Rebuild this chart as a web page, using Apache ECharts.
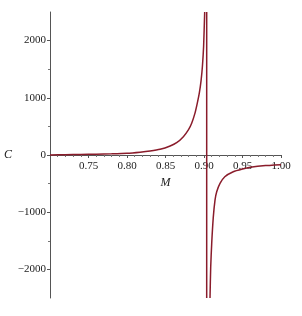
<!DOCTYPE html>
<html>
<head>
<meta charset="utf-8">
<script src="https://cdn.jsdelivr.net/npm/echarts@6/dist/echarts.min.js"></script>
<style>
html,body{margin:0;padding:0;background:#fff;}
#chart{width:302px;height:316px;}
</style>
</head>
<body>
<div id="chart"></div>
<script>
// Left branch (M < pole)
const leftM = [0.700, 0.720, 0.740, 0.760, 0.780, 0.800, 0.817, 0.830, 0.843, 0.856, 0.8645, 0.8732, 0.8797, 0.884, 0.8883, 0.8913, 0.8940, 0.8962, 0.8980, 0.8995, 0.9009];
const leftC = [2, 5, 9, 14, 21, 31, 50, 70, 100, 158, 216, 321, 439, 556, 732, 907, 1090, 1300, 1560, 1900, 2500];
// Right branch (M > pole)
const rightM = [0.9078, 0.9087, 0.9100, 0.9120, 0.9143, 0.9165, 0.9208, 0.927, 0.938, 0.950, 0.960, 0.980, 1.000];
const rightC = [-2500, -1960, -1550, -1100, -790, -643, -497, -380, -292, -245, -216, -185, -170];
// Connecting vertical segment at the pole
const poleM = [0.9035, 0.9035];
const poleC = [-2500, 2500];
const xTicks = [0.75, 0.80, 0.85, 0.90, 0.95, 1.00];
const yTicks = [-2000, -1000, 0, 1000, 2000];
const yMinorTicks = [-1500, -500, 500, 1500];

const zip = (a, b) => a.map((v, i) => [v, b[i]]);
const color = '#8a1c2b';
const axisColor = '#555';
const labelFont = { fontFamily: 'Liberation Serif', fontSize: 11, color: '#222' };
const nameFont = { fontFamily: 'Liberation Serif', fontStyle: 'italic', fontSize: 12, color: '#222' };

const chart = echarts.init(document.getElementById('chart'), null, { renderer: 'canvas' });
chart.setOption({
  animation: false,
  grid: { left: 50, right: 21, top: 12, bottom: 18, containLabel: false, outerBoundsMode: 'none' },
  xAxis: {
    type: 'value', min: 0.70, max: 1.00, interval: 0.05,
    position: 'bottom', offset: -143,
    name: 'M', nameLocation: 'middle', nameGap: 17, nameTextStyle: nameFont,
    axisLine: { onZero: false, lineStyle: { color: axisColor, width: 1 } },
    axisTick: { show: true, length: 3, lineStyle: { color: axisColor } },
    minorTick: { show: true, splitNumber: 5, length: 2, lineStyle: { color: '#777' } },
    splitLine: { show: false },
    axisLabel: Object.assign({ margin: 6, formatter: v => xTicks.some(t => Math.abs(t - v) < 1e-9) ? v.toFixed(2) : '' }, labelFont)
  },
  yAxis: [{
    type: 'value', min: -2500, max: 2500, interval: 500,
    name: 'C', nameLocation: 'middle', nameRotate: 0, nameGap: 38, nameTextStyle: nameFont,
    axisLine: { show: true, onZero: false, lineStyle: { color: axisColor, width: 1 } },
    axisTick: { show: true, length: 3, customValues: yTicks, lineStyle: { color: axisColor } },
    splitLine: { show: false },
    axisLabel: Object.assign({ margin: 4, customValues: yTicks, formatter: v => String(v).replace('-', '\u2212') }, labelFont)
  }, {
    type: 'value', min: -2500, max: 2500, interval: 500, position: 'left',
    axisLine: { show: false },
    axisTick: { show: true, length: 2, customValues: yMinorTicks, lineStyle: { color: '#777' } },
    axisLabel: { show: false },
    splitLine: { show: false }
  }],
  series: [
    { type: 'line', data: zip(leftM, leftC), smooth: 0.2, showSymbol: false, lineStyle: { color: color, width: 1.5 }, clip: true },
    { type: 'line', data: zip(rightM, rightC), smooth: 0.2, showSymbol: false, lineStyle: { color: color, width: 1.5 }, clip: true },
    { type: 'line', data: zip(poleM, poleC), showSymbol: false, lineStyle: { color: color, width: 1.5 }, clip: true }
  ]
});
</script>
</body>
</html>
